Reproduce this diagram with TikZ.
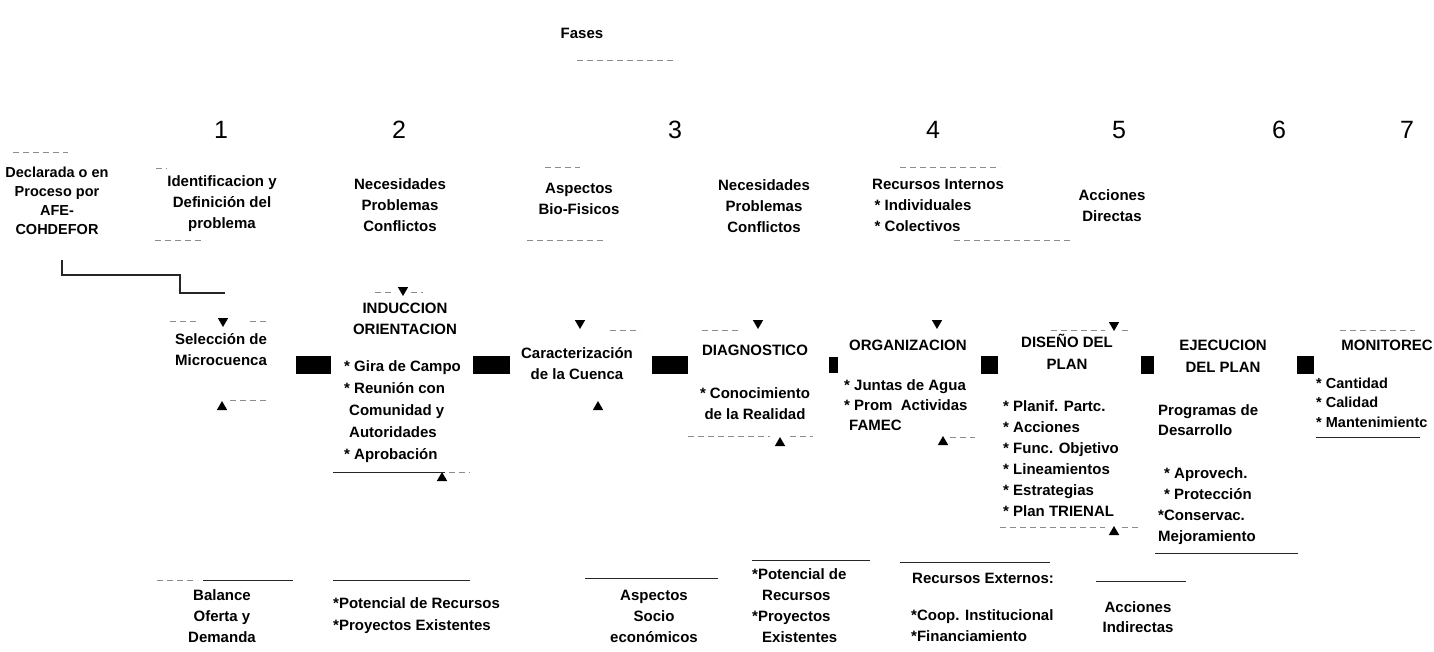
\documentclass[tikz,border=0pt]{standalone}
\usepackage{fontspec}
\setmainfont{Liberation Sans}
\usetikzlibrary{shapes.geometric}
\begin{document}
\begin{tikzpicture}[x=1pt,y=-1pt,
  txt/.style={font=\fontsize{15}{21}\selectfont\bfseries, align=center, inner sep=0pt},
  ltxt/.style={font=\fontsize{15}{21}\selectfont\bfseries, align=left, inner sep=0pt, anchor=west},
  num/.style={font=\fontsize{25}{25}\selectfont, inner sep=0pt},
  blk/.style={fill=black, draw=none, inner sep=0pt, minimum height=18pt},
  dn/.style={regular polygon, regular polygon sides=3, shape border rotate=180, fill=black, inner sep=0pt, minimum size=12pt},
  upt/.style={regular polygon, regular polygon sides=3, fill=black, inner sep=0pt, minimum size=12pt},
  rule/.style={line width=0.9pt, black!85},
  faint/.style={line width=0.7pt, black!45, dash pattern=on 6pt off 4pt},
]
\useasboundingbox (0,0) rectangle (1434,651);
\fill[white] (0,0) rectangle (1434,651);

% title and phase numbers
\node[txt] (fases) at (582,33) {Fases};
\node[num] (n1) at (221,130) {1};
\node[num] (n2) at (399,130) {2};
\node[num] (n3) at (675,130) {3};
\node[num] (n4) at (933,130) {4};
\node[num] (n5) at (1119,130) {5};
\node[num] (n6) at (1279,130) {6};
\node[num] (n7) at (1407,130) {7};

% top row
\node[txt, font=\fontsize{14.5}{19}\selectfont\bfseries] (decl) at (57,201) {Declarada o en\\Proceso por\\AFE-\\COHDEFOR};
\node[txt] (ident) at (222,204) {Identificacion y\\Definición del\\problema};
\node[txt] (nec1) at (400,205) {Necesidades\\Problemas\\Conflictos};
\node[txt] (asp) at (579,199) {Aspectos\\Bio-Fisicos};
\node[txt] (nec2) at (764,206) {Necesidades\\Problemas\\Conflictos};
\node[ltxt] (recint) at (872,205.5) {Recursos Internos\\\,* Individuales\\\,* Colectivos};
\node[txt] (accdir) at (1112,206) {Acciones\\Directas};

% phases row
\node[txt] (sel) at (221,350) {Selección de\\Microcuenca};
\node[txt] (ind) at (405,319) {INDUCCION\\ORIENTACION};
\node[ltxt, font=\fontsize{15}{22}\selectfont\bfseries] (indl) at (344,412) {* Gira de Campo\\* Reunión con\\\hspace*{5pt}Comunidad y\\\hspace*{5pt}Autoridades\\* Aprobación};
\node[txt] (cuenca) at (577,364) {Caracterización\\de la Cuenca};
\node[txt] (diag) at (755,350) {DIAGNOSTICO};
\node[txt] (diagl) at (755,404) {* Conocimiento\\de la Realidad};
\node[ltxt] (org) at (849,345) {ORGANIZACION};
\node[ltxt, font=\fontsize{15}{20}\selectfont\bfseries] (orgl) at (844,405) {* Juntas de Agua\\* Prom\ \ Actividas\\\hspace*{5pt}FAMEC};
\node[txt, font=\fontsize{15}{22}\selectfont\bfseries] (dis) at (1067,351.5) {DISEÑO DEL\\PLAN};
\node[ltxt] (disl) at (1003,458.5) {* Planif. Partc.\\* Acciones\\* Func. Objetivo\\* Lineamientos\\* Estrategias\\* Plan TRIENAL};
\node[txt, font=\fontsize{15}{22}\selectfont\bfseries] (ejec) at (1223,356) {EJECUCION\\DEL PLAN};
\node[ltxt, font=\fontsize{15}{20}\selectfont\bfseries] (prog) at (1158,420) {Programas de\\Desarrollo};
\node[ltxt] (ejecl) at (1158,506.5) {\hspace*{6pt}* Aprovech.\\\hspace*{6pt}* Protección\\*Conservac.\\Mejoramiento};
\node[txt, anchor=east] (mon) at (1433,345) {MONITOREC};
\node[ltxt, font=\fontsize{14.5}{19.5}\selectfont\bfseries] (monl) at (1316,402.5) {* Cantidad\\* Calidad\\* Mantenimientc};

% block arrows between phases
\node[blk, minimum width=35pt] (r1) at (313.5,365) {};
\node[blk, minimum width=37pt] (r2) at (491.5,365) {};
\node[blk, minimum width=36pt] (r3) at (670,365) {};
\node[blk, minimum width=9pt, minimum height=16pt] (r4) at (833.5,365) {};
\node[blk, minimum width=17pt] (r5) at (989.5,365) {};
\node[blk, minimum width=13pt] (r6) at (1147.5,365) {};
\node[blk, minimum width=17pt] (r7) at (1305.5,365) {};

% arrowheads
\node[dn] (t1d) at (223,321) {};
\node[upt] (t1u) at (222,407) {};
\node[dn] (t2d) at (403,290) {};
\node[upt] (t2u) at (442,478) {};
\node[dn] (t3d) at (580,323) {};
\node[upt] (t3u) at (598,407) {};
\node[dn] (t4d) at (758,323) {};
\node[upt] (t4u) at (780,443) {};
\node[dn] (t5d) at (937,323) {};
\node[upt] (t5u) at (943,442) {};
\node[dn] (t6d) at (1114,325) {};
\node[upt] (t6u) at (1114,532) {};

% bottom row
\node[txt] (bal) at (222,616) {Balance\\Oferta y\\Demanda};
\node[ltxt, font=\fontsize{15}{22}\selectfont\bfseries] (pot1) at (333,616) {*Potencial de Recursos\\*Proyectos Existentes};
\node[txt] (soc) at (654,616) {Aspectos\\Socio\\económicos};
\node[ltxt] (pot2) at (752,605.5) {*Potencial de\\\hspace*{10pt}Recursos\\*Proyectos\\\hspace*{10pt}Existentes};
\node[ltxt] (recext) at (912,578) {Recursos Externos:};
\node[ltxt] (recextl) at (911,625.5) {*Coop. Institucional\\*Financiamiento};
\node[txt, font=\fontsize{15}{20}\selectfont\bfseries] (accind) at (1138,617) {Acciones\\Indirectas};

% connector from the declared watershed to phase 1
\coordinate (l0) at (62,260);
\coordinate (l1) at (62,275);
\coordinate (l2) at (180,275);
\coordinate (l3) at (180,293);
\coordinate (l4) at (225,293);
\draw[rule, line width=1.1pt] (l0) -- (l1) -- (l2) -- (l3) -- (l4);

% visible box edges
\draw[rule] (333,472) -- (445,472);
\draw[faint] (449,472) -- (470,472);
\draw[rule] (1155,553) -- (1298,553);
\draw[rule] (1316,437) -- (1420,437);
\draw[faint] (157,580) -- (197,580);
\draw[rule] (203,580) -- (293,580);
\draw[rule] (333,580) -- (470,580);
\draw[rule] (585,578) -- (718,578);
\draw[rule] (752,560) -- (870,560);
\draw[rule] (900,562) -- (1050,562);
\draw[rule] (1096,581) -- (1186,581);

% faded box edges
\draw[faint] (577,60) -- (673,60);
\draw[faint] (13,152) -- (68,152);
\draw[faint] (156,168) -- (167,168);
\draw[faint] (155,240) -- (205,240);
\draw[faint] (545,167) -- (580,167);
\draw[faint] (527,240) -- (605,240);
\draw[faint] (900,167) -- (1000,167);
\draw[faint] (954,240) -- (1070,240);
\draw[faint] (170,321) -- (196,321);
\draw[faint] (250,321) -- (267,321);
\draw[faint] (230,400) -- (267,400);
\draw[faint] (375,292) -- (395,292);
\draw[faint] (411,292) -- (423,292);
\draw[faint] (610,330) -- (640,330);
\draw[faint] (702,330) -- (740,330);
\draw[faint] (688,436) -- (770,436);
\draw[faint] (790,436) -- (813,436);
\draw[faint] (950,437) -- (975,437);
\draw[faint] (1051,330) -- (1105,330);
\draw[faint] (1122,330) -- (1131,330);
\draw[faint] (1000,527) -- (1105,527);
\draw[faint] (1122,527) -- (1140,527);
\draw[faint] (1340,330) -- (1415,330);
\end{tikzpicture}
\end{document}
